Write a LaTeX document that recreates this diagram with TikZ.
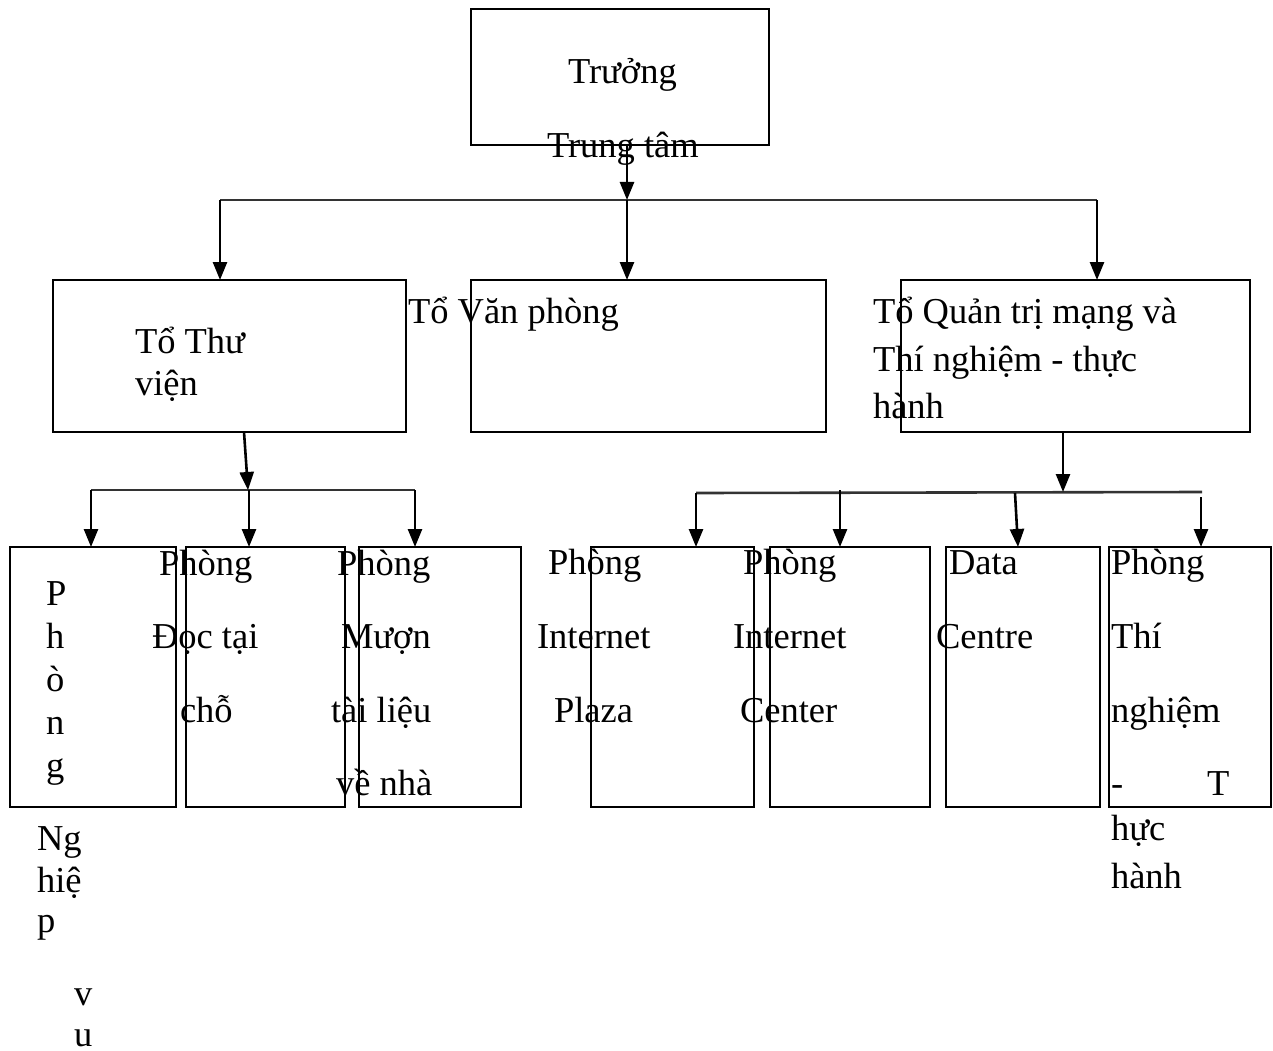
\documentclass[tikz,border=0pt]{standalone}
\usepackage{fontspec}
\setmainfont{Liberation Serif}
\usetikzlibrary{arrows.meta}
\begin{document}
\begin{tikzpicture}[x=1pt,y=-1pt,
  box/.style={draw, line width=1.8pt, inner sep=0pt, outer sep=0pt},
  lbl/.style={anchor=base west, inner sep=0pt, outer sep=0pt, font=\fontsize{36.5}{44}\selectfont},
  arr/.style={line width=2.6pt, -{Triangle[width=14pt,length=18pt]}},
  bus/.style={line width=2.6pt, black!80}]
\useasboundingbox (0,0) rectangle (1273,1051);
% boxes
\node[box, minimum width=298pt, minimum height=136pt] (top) at (620,77) {};
\node[box, minimum width=353pt, minimum height=152pt] (L2a) at (229.5,356) {};
\node[box, minimum width=355pt, minimum height=152pt] (L2b) at (648.5,356) {};
\node[box, minimum width=349pt, minimum height=152pt] (L2c) at (1075.5,356) {};
\node[box, minimum width=166pt, minimum height=260pt] (A) at (93,677) {};
\node[box, minimum width=159pt, minimum height=260pt] (B) at (265.5,677) {};
\node[box, minimum width=162pt, minimum height=260pt] (C) at (440,677) {};
\node[box, minimum width=163pt, minimum height=260pt] (D) at (672.5,677) {};
\node[box, minimum width=160pt, minimum height=260pt] (E) at (850,677) {};
\node[box, minimum width=154pt, minimum height=260pt] (F) at (1023,677) {};
\node[box, minimum width=162pt, minimum height=260pt] (G) at (1190,677) {};
% bus coordinates
\coordinate (b1l) at (220,200);
\coordinate (b1m) at (627,200);
\coordinate (b1r) at (1097,200);
\coordinate (topout) at (627,145);
\coordinate (b2l) at (91,490);
\coordinate (b2in) at (248,490);
\coordinate (b2m) at (249,490);
\coordinate (b2r) at (415,490);
\coordinate (L2aout) at (244,432);
\coordinate (b3l) at (696,493);
\coordinate (b3e) at (840,490);
\coordinate (b3f) at (1015,493);
\coordinate (b3g) at (1201,497);
\coordinate (b3r) at (1202,492);
\coordinate (b3in) at (1063,492);
\coordinate (L2cout) at (1063,432);
\coordinate (Fin) at (1018,547);
% bus lines
\draw[bus] (b1l) -- (b1r);
\draw[bus] (b2l) -- (b2r);
\draw[bus] (b3l) -- (b3r);
% connectors
\draw[arr] (topout) -- (b1m);
\draw[arr] (b1m) -- (b1m |- L2b.north);
\draw[arr] (b1l) -- (b1l |- L2a.north);
\draw[arr] (b1r) -- (b1r |- L2c.north);
\draw[arr] (L2aout) -- (b2in);
\draw[arr] (b2l) -- (b2l |- A.north);
\draw[arr] (b2m) -- (b2m |- B.north);
\draw[arr] (b2r) -- (b2r |- C.north);
\draw[arr] (L2cout) -- (b3in);
\draw[arr] (b3l) -- (b3l |- D.north);
\draw[arr] (b3e) -- (b3e |- E.north);
\draw[arr] (b3f) -- (Fin);
\draw[arr] (b3g) -- (b3g |- G.north);
% texts
\node[lbl] (t0a) at (568,84) {Trưởng};
\node[lbl] (t0b) at (547,158) {Trung tâm};
\node[lbl] (t1a) at (135,353) {Tổ Thư};
\node[lbl] (t1b) at (135,395) {viện};
\node[lbl] (t2a) at (408,323) {Tổ Văn phòng};
\node[lbl] (t3a) at (873,323) {Tổ Quản trị mạng và};
\node[lbl] (t3b) at (873,371) {Thí nghiệm - thực};
\node[lbl] (t3c) at (873,418) {hành};
\node[lbl] (tA1) at (46,605) {P};
\node[lbl] (tA2) at (46,648) {h};
\node[lbl] (tA3) at (46,691) {ò};
\node[lbl] (tA4) at (46,734) {n};
\node[lbl] (tA5) at (46,777) {g};
\node[lbl] (tA6) at (37,850) {Ng};
\node[lbl] (tA7) at (37,892) {hiệ};
\node[lbl] (tA8) at (37,932) {p};
\node[lbl] (tA9) at (74,1005) {v};
\node[lbl] (tA10) at (74,1046) {u};
\node[lbl] (tB1) at (159,575) {Phòng};
\node[lbl] (tB2) at (152,648) {Đọc tại};
\node[lbl] (tB3) at (180,722) {chỗ};
\node[lbl] (tC1) at (337,575) {Phòng};
\node[lbl] (tC2) at (341,648) {Mượn};
\node[lbl] (tC3) at (331,722) {tài liệu};
\node[lbl] (tC4) at (336,795) {về nhà};
\node[lbl] (tD1) at (548,574) {Phòng};
\node[lbl] (tD2) at (537,648) {Internet};
\node[lbl] (tD3) at (554,722) {Plaza};
\node[lbl] (tE1) at (743,574) {Phòng};
\node[lbl] (tE2) at (733,648) {Internet};
\node[lbl] (tE3) at (740,722) {Center};
\node[lbl] (tF1) at (949,574) {Data};
\node[lbl] (tF2) at (936,648) {Centre};
\node[lbl] (tG1) at (1111,574) {Phòng};
\node[lbl] (tG2) at (1111,648) {Thí};
\node[lbl] (tG3) at (1111,722) {nghiệm};
\node[lbl] (tG4) at (1111,795) {-};
\node[lbl] (tG5) at (1207,795) {T};
\node[lbl] (tG6) at (1111,840) {hực};
\node[lbl] (tG7) at (1111,888) {hành};
\end{tikzpicture}
\end{document}
